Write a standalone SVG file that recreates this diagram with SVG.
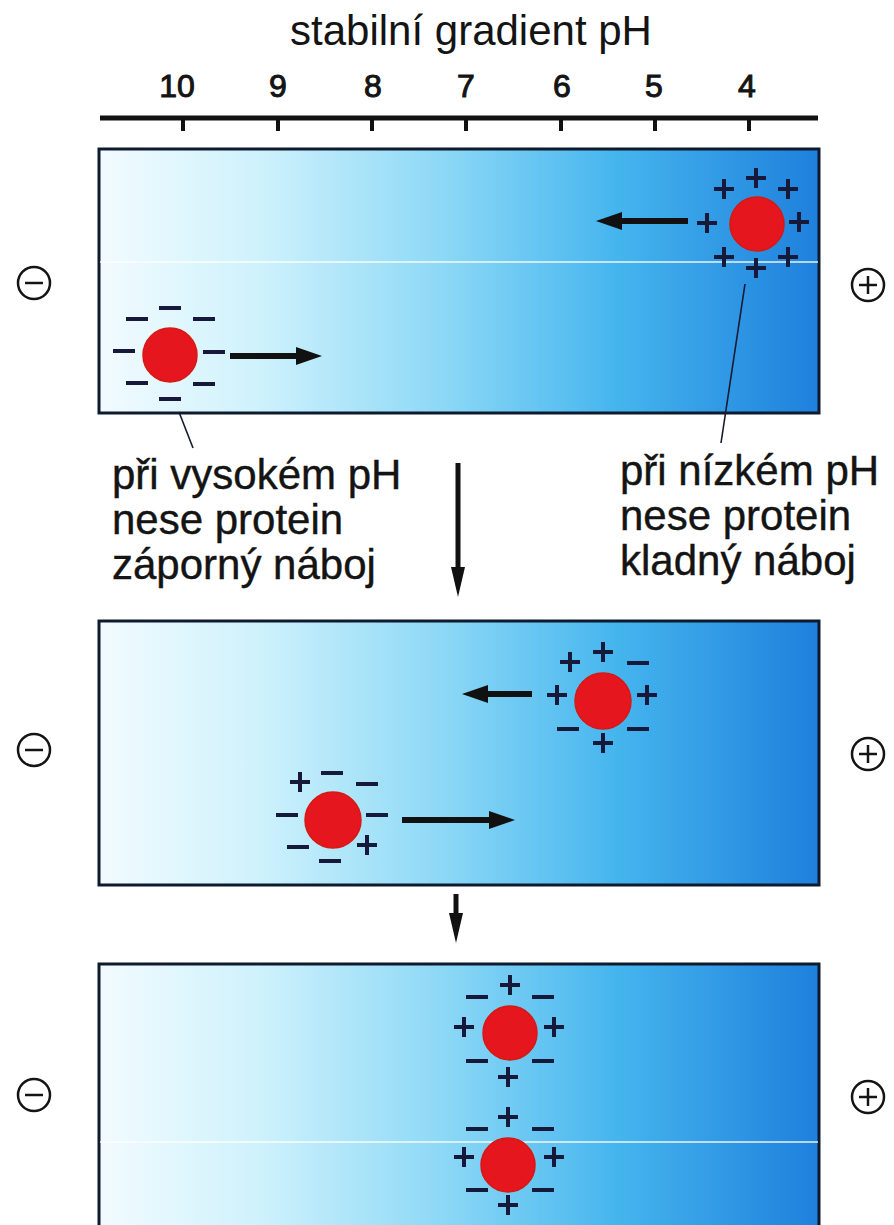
<svg xmlns="http://www.w3.org/2000/svg" width="894" height="1225" viewBox="0 0 894 1225">
  <style>
    .txt { font-family: "Liberation Sans", Arial, sans-serif; fill: #141414; }
    .title { font-size: 42px; }
    .num { font-size: 32px; stroke: #141414; stroke-width: 1; }
    .lbl { font-size: 42px; stroke: #141414; stroke-width: 0.4; }
    .gel { fill: url(#gel); stroke: #0e1a2e; stroke-width: 3; }
    .seam { stroke: #ffffff; stroke-width: 1.5; opacity: 0.9; }
    .prot { fill: #e5161d; stroke: #d41a14; stroke-width: 1.5; }
    .leader { stroke: #141a30; stroke-width: 1.6; fill: none; }
    .move { stroke: #111111; stroke-width: 6; marker-end: url(#head); }
    .step { stroke: #111111; stroke-width: 5; marker-end: url(#headv); }
  </style>
  <defs>
    <linearGradient id="gel" x1="0" y1="0" x2="1" y2="0">
      <stop offset="0" stop-color="#f2fbff"/>
      <stop offset="0.22" stop-color="#cff2fc"/>
      <stop offset="0.48" stop-color="#8cd8f6"/>
      <stop offset="0.72" stop-color="#45b5ee"/>
      <stop offset="1" stop-color="#1e80dc"/>
    </linearGradient>
    <marker id="head" markerUnits="userSpaceOnUse" markerWidth="26" markerHeight="18" refX="14" refY="9" orient="auto">
      <path d="M0 0L26 9L0 18Z" fill="#111111"/>
    </marker>
    <marker id="headv" markerUnits="userSpaceOnUse" markerWidth="30" markerHeight="14" refX="16" refY="7" orient="auto">
      <path d="M0 0L30 7L0 14Z" fill="#111111"/>
    </marker>
    <path id="p" d="M-10 0H10M0-10V10" stroke="#16193a" stroke-width="4" fill="none"/>
    <path id="m" d="M-11 0H11" stroke="#16193a" stroke-width="4" fill="none"/>
    <g id="anode">
      <circle r="16" fill="none" stroke="#141414" stroke-width="2.5"/>
      <path d="M-9 0H9M0-9V9" stroke="#141414" stroke-width="2.5"/>
    </g>
    <g id="cathode">
      <circle r="16" fill="none" stroke="#141414" stroke-width="2.5"/>
      <path d="M-9 0H9" stroke="#141414" stroke-width="2.5"/>
    </g>
  </defs>

  <rect width="894" height="1225" fill="#ffffff"/>

  <!-- pH scale -->
  <g id="scale">
    <text class="txt title" x="471" y="45" text-anchor="middle">stabilní gradient pH</text>
    <g class="txt num" text-anchor="middle">
      <text x="177" y="97">10</text>
      <text x="278" y="97">9</text>
      <text x="373" y="97">8</text>
      <text x="466" y="97">7</text>
      <text x="562" y="97">6</text>
      <text x="654" y="97">5</text>
      <text x="747" y="97">4</text>
    </g>
    <path d="M100 118H818" stroke="#111111" stroke-width="5"/>
    <path d="M183 118V131M278 118V131M372 118V131M466 118V131M561 118V131M655 118V131M749 118V131" stroke="#111111" stroke-width="4"/>
  </g>

  <!-- gel strip 1: proteins at the ends of the gradient -->
  <g id="gel1">
    <rect class="gel" x="99" y="149" width="720" height="264"/>
    <line class="seam" x1="100" y1="262" x2="818" y2="262"/>
    <use href="#cathode" x="34" y="283"/>
    <use href="#anode" x="868" y="285"/>
  </g>
  <g id="protein1a">
    <circle class="prot" cx="757" cy="224" r="27"/>
    <use href="#p" x="756" y="178"/>
    <use href="#p" x="724" y="189"/>
    <use href="#p" x="788" y="189"/>
    <use href="#p" x="707" y="223"/>
    <use href="#p" x="799" y="222"/>
    <use href="#p" x="724" y="257"/>
    <use href="#p" x="788" y="257"/>
    <use href="#p" x="756" y="268"/>
  </g>
  <g id="protein1b">
    <circle class="prot" cx="170" cy="355" r="27"/>
    <use href="#m" x="170" y="308"/>
    <use href="#m" x="137" y="319"/>
    <use href="#m" x="204" y="319"/>
    <use href="#m" x="124" y="351"/>
    <use href="#m" x="214" y="352"/>
    <use href="#m" x="137" y="383"/>
    <use href="#m" x="204" y="384"/>
    <use href="#m" x="170" y="399"/>
  </g>
  <g id="label-high">
    <text class="txt lbl" x="112" y="489">při vysokém pH</text>
    <text class="txt lbl" x="112" y="534">nese protein</text>
    <text class="txt lbl" x="112" y="579">záporný náboj</text>
  </g>
  <g id="label-low">
    <text class="txt lbl" x="620" y="485">při nízkém pH</text>
    <text class="txt lbl" x="620" y="530">nese protein</text>
    <text class="txt lbl" x="620" y="575">kladný náboj</text>
  </g>

  <!-- gel strip 2: proteins on their way -->
  <g id="gel2">
    <rect class="gel" x="99" y="621" width="720" height="264"/>
    <use href="#cathode" x="34" y="750"/>
    <use href="#anode" x="868" y="754"/>
  </g>
  <g id="protein2a">
    <circle class="prot" cx="603" cy="701" r="28"/>
    <use href="#p" x="570" y="662"/>
    <use href="#p" x="603" y="652"/>
    <use href="#m" x="638" y="663"/>
    <use href="#p" x="557" y="695"/>
    <use href="#p" x="647" y="695"/>
    <use href="#m" x="568" y="729"/>
    <use href="#p" x="603" y="743"/>
    <use href="#m" x="638" y="729"/>
  </g>
  <g id="protein2b">
    <circle class="prot" cx="333" cy="820" r="28"/>
    <use href="#p" x="300" y="782"/>
    <use href="#m" x="332" y="773"/>
    <use href="#m" x="367" y="784"/>
    <use href="#m" x="287" y="815"/>
    <use href="#m" x="377" y="815"/>
    <use href="#m" x="298" y="847"/>
    <use href="#p" x="367" y="845"/>
    <use href="#m" x="330" y="861"/>
  </g>

  <!-- gel strip 3: proteins focused at the isoelectric point -->
  <g id="gel3">
    <rect class="gel" x="99" y="964" width="720" height="280"/>
    <line class="seam" x1="100" y1="1142" x2="818" y2="1142"/>
    <use href="#cathode" x="34" y="1095"/>
    <use href="#anode" x="868" y="1097"/>
  </g>
  <g id="protein3a">
    <circle class="prot" cx="510" cy="1033" r="27"/>
    <use href="#p" x="510" y="985"/>
    <use href="#m" x="477" y="997"/>
    <use href="#m" x="543" y="997"/>
    <use href="#p" x="464" y="1027"/>
    <use href="#p" x="554" y="1027"/>
    <use href="#m" x="477" y="1061"/>
    <use href="#m" x="543" y="1061"/>
    <use href="#p" x="508" y="1077"/>
  </g>
  <g id="protein3b">
    <circle class="prot" cx="508" cy="1165" r="27"/>
    <use href="#p" x="508" y="1117"/>
    <use href="#m" x="477" y="1129"/>
    <use href="#m" x="543" y="1129"/>
    <use href="#p" x="464" y="1157"/>
    <use href="#p" x="554" y="1157"/>
    <use href="#m" x="477" y="1190"/>
    <use href="#m" x="543" y="1190"/>
    <use href="#p" x="508" y="1205"/>
  </g>

  <!-- arrows and leader lines -->
  <g id="connectors">
    <line class="move" x1="688" y1="221" x2="608" y2="221"/>
    <line class="move" x1="230" y1="356" x2="310" y2="356"/>
    <line class="move" x1="532" y1="694" x2="474" y2="694"/>
    <line class="move" x1="402" y1="820" x2="503" y2="820"/>
    <line class="step" x1="458" y1="463" x2="458" y2="583"/>
    <line class="step" x1="456" y1="894" x2="456" y2="929"/>
    <path class="leader" d="M179 412L193 448"/>
    <path class="leader" d="M745 284L721 443"/>
  </g>
</svg>
